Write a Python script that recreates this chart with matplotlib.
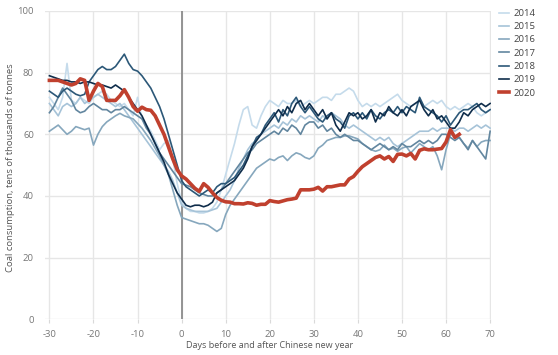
import matplotlib
matplotlib.use("Agg")
import matplotlib.pyplot as plt
import numpy as np

plt.rcParams['font.family'] = ['Open Sans', 'DejaVu Sans']
plt.rcParams['axes.unicode_minus'] = False

days = list(range(-30, 71))
days_2020 = list(range(-30, 64))

y2014 = [72, 70, 68, 72, 83, 71, 70, 72, 71, 70,
         72, 73, 74, 73, 71, 70, 69, 70, 68, 66,
         72, 65, 63, 61, 58, 55, 57, 58, 52, 44,
         38, 36, 35, 35, 34.5, 34.5, 35, 36, 38, 42,
         47, 52, 57, 63, 68, 69, 63, 62, 66, 69,
         71, 70, 69, 71, 70, 70, 71, 69, 70, 71,
         70, 71, 72, 72, 71, 73, 73, 74, 75, 74,
         71, 69, 70, 69, 70, 69, 70, 71, 72, 73,
         71, 70, 69, 70, 71, 69, 70, 71, 70, 71,
         69, 68, 69, 68, 69, 70, 69, 67, 66, 67, 68]

y2015 = [70, 68, 66, 69, 70, 69, 70, 72, 70, 71,
         72, 73, 72, 71, 70, 69, 70, 68, 66, 64,
         62, 60, 58, 56, 54, 52, 50, 48, 45, 41,
         37, 36, 35.5, 35, 35, 35, 35, 35.5, 36, 38,
         40, 42, 45, 49, 52, 55, 57, 58, 60, 61,
         62, 63, 62, 64, 63, 65, 64, 66, 65, 66,
         65, 64, 66, 65, 67, 66, 65, 63, 62, 63,
         62, 61, 60, 59, 58, 59, 58, 59, 57, 56,
         57, 58, 59, 60, 61, 61, 61, 62, 61, 62,
         62, 62, 61, 62, 62, 61, 62, 63, 62, 63, 62]

y2016 = [61, 62, 63, 61.5, 60, 61, 62.5, 62, 61.5, 62,
         56.5, 60, 62.5, 64, 65, 66, 66.8, 66, 65.5, 65,
         63.5, 62, 60, 58, 55.5, 53, 50, 47, 42, 37,
         33, 32.5, 32, 31.5, 31, 31, 30.5, 29.5, 28.5, 29.5,
         34, 37, 39, 41, 43, 45, 47, 49, 50, 51,
         52, 51.5, 52.5, 53, 51.5, 53, 54, 53.5, 52.5, 52,
         53, 55.5, 56.5, 58, 58.5, 59, 59, 59.5, 59.5, 59,
         58.5, 57, 56, 55, 54.5, 55, 56.5, 55, 55.5, 54.5,
         55.5, 56, 54, 55.5, 57, 56, 55, 56, 53, 48.5,
         55, 60, 59.5, 59, 57, 55.5, 58, 56, 57.5, 58, 58]

y2017 = [67, 69, 72, 75, 73, 71, 68, 67, 67.5, 69,
         70, 69, 68, 68, 67, 68, 68, 69, 68, 67,
         66, 65, 62, 60, 57, 54, 52, 50, 48, 46,
         44, 43.5, 43, 42, 41, 40.5, 40, 40, 41, 42,
         44, 46, 48, 50, 52, 54, 55, 57, 58, 59,
         60, 61, 60, 62, 61, 63, 62, 60, 63, 64,
         64, 62, 63, 61, 62, 60, 59, 60, 59, 58,
         58, 57, 56, 55, 56, 57, 56, 55, 56, 55,
         57, 56, 56, 57, 58, 57, 58, 57, 58, 60,
         60, 59, 58, 59, 57, 55, 58, 56, 54, 52, 61]

y2018 = [74, 73, 72, 74, 75, 74, 73, 72.5, 73, 77,
         79, 81, 82, 81, 81, 82, 84, 86, 83, 81,
         80.5, 79, 77, 75, 72, 69, 65, 60, 55, 50,
         45, 43, 42, 41, 40, 41, 42, 41, 43, 44,
         44, 45, 46, 48, 50, 53, 56, 59, 60, 63,
         65, 67, 64, 68, 66, 70, 72, 69, 67, 69,
         67, 65, 64, 66, 67, 65, 64, 62, 66, 67,
         65, 67, 65, 68, 66, 65, 67, 68, 67, 69,
         67, 69, 68, 67, 72, 69, 68, 67, 66, 64,
         66, 63, 65, 67, 68, 68, 69, 70, 68, 67, 68]

y2019 = [79, 78.5, 78, 77.5, 77.5, 77, 77, 76.5, 77, 77,
         76.5, 76, 76, 75.5, 75, 76, 75, 74, 72, 70,
         68, 66, 63, 60, 57, 54, 51, 47, 44, 41,
         39, 37, 36.5, 37, 37, 36.5, 37, 38, 41, 42,
         43, 44, 45, 47, 49, 52, 56, 58, 60, 62,
         64, 66, 68, 66, 69, 67, 70, 71, 68, 70,
         68, 66, 68, 65, 67, 63, 61, 64, 67, 66,
         67, 65, 66, 68, 64, 67, 66, 69, 67, 66,
         68, 66, 69, 70, 71, 68, 66, 68, 65, 66,
         64, 62, 62, 64, 67, 66, 68, 69, 70, 69, 70]

y2020 = [77.5, 77.5, 77.5, 77, 76.5, 76, 76.5, 78, 77.5, 71,
         74, 76.5, 75.5, 71, 71, 71, 72.5, 74.5, 72, 69,
         67.5, 68.8, 68, 67.8, 66, 63, 60, 56, 52, 48.5,
         46.5, 45.5, 44, 42.5, 41.5, 44, 42.8, 41, 39.5, 38.6,
         38.1, 38, 37.5, 37.5, 37.4, 37.8, 37.6, 37, 37.3, 37.3,
         38.5, 38.2, 38, 38.4, 38.8, 39, 39.3, 42, 42, 42,
         42.2, 42.8, 41.6, 43, 43, 43.3, 43.6, 43.6, 45.5, 46.3,
         48, 49.5, 50.5, 51.5, 52.5, 53, 52, 52.8, 51.2, 53.5,
         53.6, 53, 53.8, 52, 54.8, 55.3, 55, 55, 55.2, 55.4,
         57.5, 61.5, 59, 60]

years = ['2014', '2015', '2016', '2017', '2018', '2019']
series = [y2014, y2015, y2016, y2017, y2018, y2019]
colors = ['#c5dbeb', '#a6c3d8', '#86a7bd', '#62869f', '#2c5878', '#0f2d4b']

x_ticks = [-30, -20, -10, 0, 10, 20, 30, 40, 50, 60, 70]
y_ticks = [0, 20, 40, 60, 80, 100]

W, H = 558, 355
fig = plt.figure(figsize=(W/100, H/100), dpi=100)
ax = fig.add_axes([45/W, 1 - 319.3/H, (491 - 45)/W, (319.3 - 11)/H])

for xt in x_ticks:
    ax.axvline(xt, color='#e6e6e6', lw=1, zorder=0)
for yt in y_ticks:
    ax.axhline(yt, color='#e6e6e6', lw=1, zorder=0)
ax.axvline(0, color='#8c8c8c', lw=1.3, zorder=1)

for yr, ys, c in zip(years, series, colors):
    ax.plot(days, ys, color=c, lw=1.2, label=yr, zorder=2)
ax.plot(days_2020, y2020, color='#c0402e', lw=2.6, label='2020', zorder=3)

ax.set_xlim(-31.0, 70.2)
ax.set_ylim(0, 100)
ax.set_xticks(x_ticks)
ax.set_yticks(y_ticks)
for s in ax.spines.values():
    s.set_visible(False)
ax.tick_params(axis='x', length=3, color='#d9d9d9', labelsize=6.8, labelcolor='#777777', pad=5)
ax.tick_params(axis='y', length=0, labelsize=6.8, labelcolor='#777777', pad=8)

fig.text(270/W, 1 - 345/H, 'Days before and after Chinese new year', fontsize=6.5,
         color='#555555', ha='center', va='center')
fig.text(11/W, 1 - 168/H, 'Coal consumption, tens of thousands of tonnes', fontsize=6.8,
         color='#555555', ha='center', va='center', rotation=90)

leg = ax.legend(loc='upper left', bbox_to_anchor=(499/W, 1 - 9/H), bbox_transform=fig.transFigure,
                frameon=False, fontsize=6.8, handlelength=1.1, handletextpad=0.4,
                labelspacing=0.45, borderaxespad=0, borderpad=0)
for t in leg.get_texts():
    t.set_color('#444444')

fig.savefig('out.png', dpi=100)
